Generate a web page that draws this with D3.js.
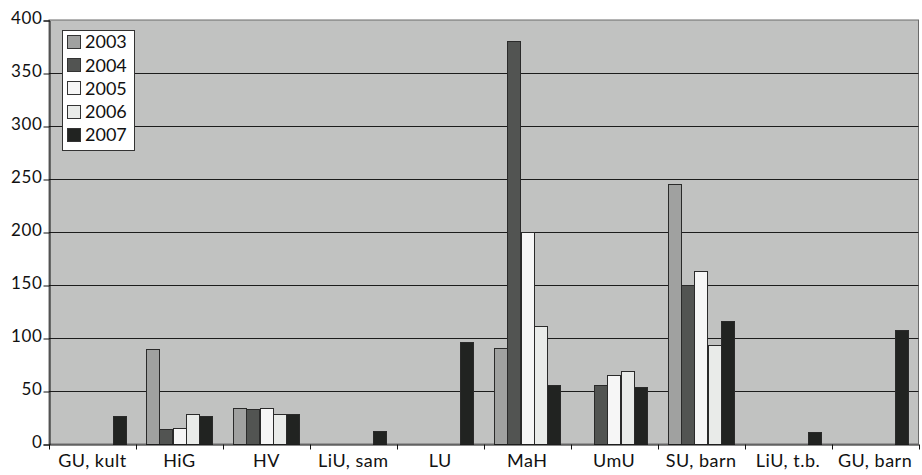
<!DOCTYPE html>
<html><head><meta charset="utf-8">
<script src="https://cdn.jsdelivr.net/npm/d3@7/dist/d3.min.js"></script>
<style>
html,body{margin:0;padding:0;background:#fff;}
svg text{font-family:Lato, "Open Sans", sans-serif;fill:#111;}
</style></head>
<body><svg id="c" width="922" height="475"></svg>
<script>
const categories = ["GU, kult","HiG","HV","LiU, sam","LU","MaH","UmU","SU, barn","LiU, t.b.","GU, barn"];
const years = ["2003","2004","2005","2006","2007"];
const s2003 = [null,90,34,null,null,91,null,245,null,null];
const s2004 = [null,14,33,null,null,380,56,150,null,null];
const s2005 = [null,15,34,null,null,200,65,163,null,null];
const s2006 = [null,28,28,null,null,111,69,93,null,null];
const s2007 = [26,26,28,12,96,56,54,116,11,108];
const yTicks = [0,50,100,150,200,250,300,350,400];
const colors = ["#a0a1a0","#525452","#f6f6f6","#e9ebe9","#212321"];
const series = [s2003,s2004,s2005,s2006,s2007];

const svg = d3.select("#c");
const L = 49, R = 918.5, T = 20, B = 444;
const x0 = d3.scaleBand().domain(categories).range([L, R]).padding(0);
const x1 = d3.scaleBand().domain(years).range([0, x0.bandwidth()]).paddingInner(0).paddingOuter(0.75);
const y = d3.scaleLinear().domain([0,400]).range([B, T]);

// plot background
svg.append("rect").attr("x",L).attr("y",T).attr("width",R-L).attr("height",B-T)
  .attr("fill","#c1c2c1").attr("stroke","#6a6a6a").attr("stroke-width",1);

// gridlines
svg.append("g").selectAll("line").data(yTicks.filter(d=>d>0 && d<400)).join("line")
  .attr("x1",L).attr("x2",R)
  .attr("y1",d=>Math.round(y(d))+0.5).attr("y2",d=>Math.round(y(d))+0.5)
  .attr("stroke","#1c1c1c").attr("stroke-width",1);

// bars
const g = svg.append("g");
categories.forEach((c,i)=>{
  series.forEach((s,k)=>{
    const v = s[i];
    if (v==null) return;
    const xx = x0(c) + x1(years[k]);
    g.append("rect")
      .attr("x", Math.round(xx)+0.5)
      .attr("y", Math.round(y(v))+0.5)
      .attr("width", Math.round(x1.bandwidth()))
      .attr("height", Math.round(y(0)) - Math.round(y(v)))
      .attr("fill", colors[k])
      .attr("stroke","#2a2a2a").attr("stroke-width",1);
  });
});

// y axis
const yAxis = d3.axisLeft(y).tickValues(yTicks).tickSize(6).tickPadding(1);
const ya = svg.append("g").attr("transform",`translate(${L+0.5},0.5)`).call(yAxis);
ya.select(".domain").attr("stroke","#111");
ya.selectAll(".tick line").attr("stroke","#111");
ya.selectAll(".tick text").style("font-size","17px").style("letter-spacing","0.6px")
  .attr("dy","0.15em").attr("fill","#111");

// x axis
const xAxis = d3.axisBottom(x0).tickSize(0).tickPadding(10);
const xa = svg.append("g").attr("transform",`translate(0,${B+0.5})`).call(xAxis);
xa.select(".domain").attr("stroke","#111");
xa.selectAll(".tick text").style("font-size","18px").style("letter-spacing","0.5px").attr("fill","#111");
// boundary ticks
const bounds = categories.map(c=>x0(c)).concat([R]);
xa.append("g").selectAll("line").data(bounds).join("line")
  .attr("x1",d=>Math.round(d)+0.5).attr("x2",d=>Math.round(d)+0.5)
  .attr("y1",0).attr("y2",5).attr("stroke","#111");

// legend
const lg = svg.append("g");
lg.append("rect").attr("x",62.5).attr("y",30.5).attr("width",72).attr("height",120)
  .attr("fill","#fff").attr("stroke","#333");
years.forEach((yr,k)=>{
  const cy = 42 + k*23.2;
  lg.append("rect").attr("x",67.5).attr("y",Math.round(cy-7)+0.5).attr("width",13).attr("height",13)
    .attr("fill",colors[k]).attr("stroke","#333");
  lg.append("text").attr("x",85).attr("y",cy).attr("dy","0.36em")
    .style("font-size","18px").text(yr);
});
</script></body></html>
